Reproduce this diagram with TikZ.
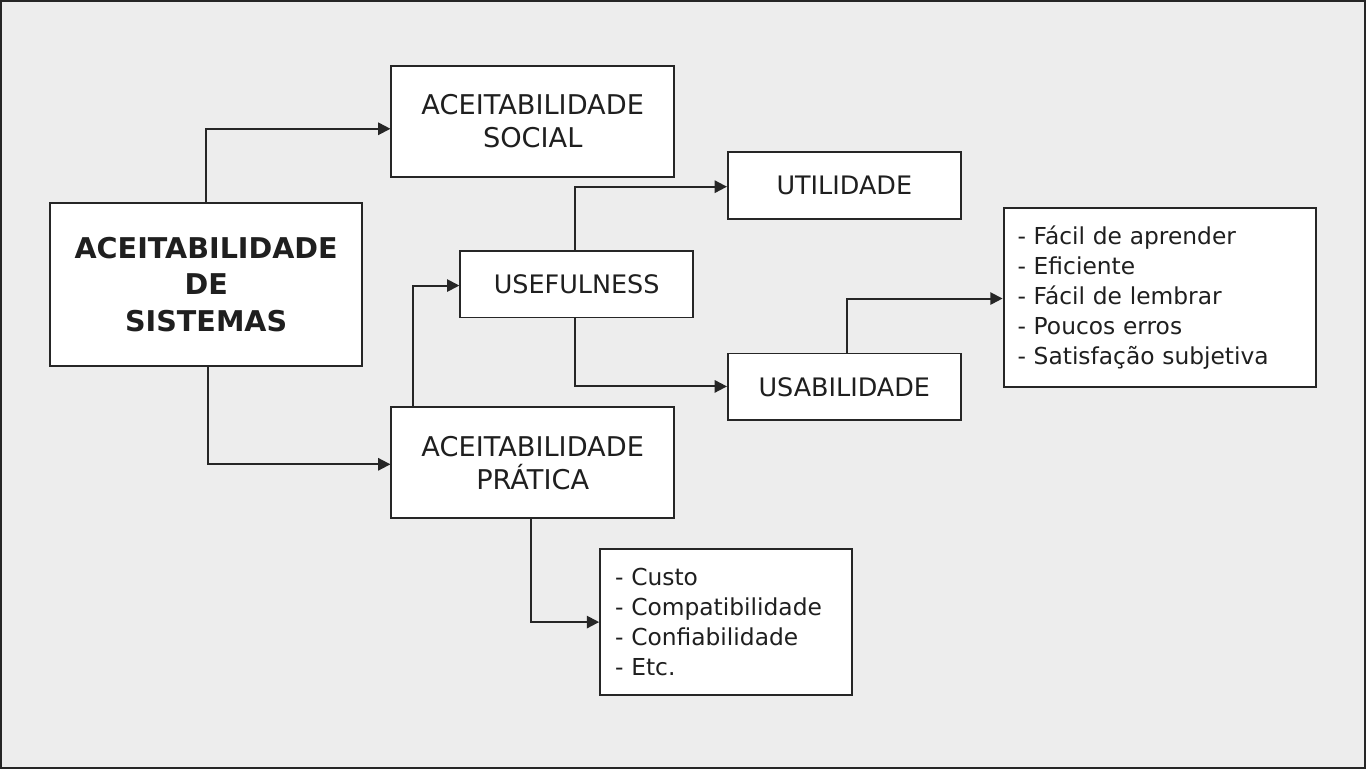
\documentclass[tikz,border=0pt]{standalone}
\usepackage{fontspec}
\setmainfont{DejaVu Sans}
\usetikzlibrary{arrows.meta}

\begin{document}
\begin{tikzpicture}[x=0.02cm,y=-0.02cm,line width=1.1pt,draw=black!85,text=black!88]
      \tikzstyle{box}=[draw,fill=white,inner sep=0pt,align=center,font=\fontsize{15.5}{19}\selectfont]
      \tikzstyle{listbox}=[draw,fill=white,inner sep=0pt,align=left,font=\fontsize{13.3}{17}\selectfont]
      \tikzstyle{link}=[-{Triangle[length=7pt,width=7pt]}]

      % Background and frame
      \draw[fill=black!7] (0,0) rectangle (1366,768);

      % Boxes
      \node[box, minimum width=313*0.02cm, minimum height=164*0.02cm,
            font=\fontsize{16.3}{21}\selectfont\bfseries] (sys) at (205.5,284) {ACEITABILIDADE\\DE\\SISTEMAS};
      \node[box, minimum width=283*0.02cm, minimum height=111*0.02cm] (social) at (532.5,120.5) {ACEITABILIDADE\\SOCIAL};
      \node[box, minimum width=283*0.02cm, minimum height=111*0.02cm] (pratica) at (532.5,462.5) {ACEITABILIDADE\\PRÁTICA};
      \node[box, minimum width=233*0.02cm, minimum height=67*0.02cm,
            font=\fontsize{14.5}{18}\selectfont] (useful) at (576.5,283.5) {USEFULNESS};
      \node[box, minimum width=233*0.02cm, minimum height=67*0.02cm,
            font=\fontsize{14.5}{18}\selectfont] (util) at (844.5,184.5) {UTILIDADE};
      \node[box, minimum width=233*0.02cm, minimum height=67*0.02cm,
            font=\fontsize{14.5}{18}\selectfont] (usab) at (844.5,386.5) {USABILIDADE};
      \node[listbox, minimum width=313*0.02cm, minimum height=180*0.02cm, text width=285*0.02cm] (usablist) at (1160.5,297)
            {- Fácil de aprender\\- Eficiente\\- Fácil de lembrar\\- Poucos erros\\- Satisfação subjetiva};
      \node[listbox, minimum width=252*0.02cm, minimum height=146*0.02cm, text width=222*0.02cm] (pratlist) at (726,622)
            {- Custo\\- Compatibilidade\\- Confiabilidade\\- Etc.};

      % Connectors
      \coordinate (c1) at (205,128);
      \coordinate (c2) at (207,464);
      \coordinate (c3) at (413,285);
      \coordinate (c4) at (575,186);
      \coordinate (c5) at (575,386);
      \coordinate (c6) at (847,298);
      \coordinate (c7) at (531,622);
      \draw[link] (sys.north -| c1) |- (social.west |- c1);
      \draw[link] (sys.south -| c2) |- (pratica.west |- c2);
      \draw[link] (pratica.north -| c3) |- (useful.west |- c3);
      \draw[link] (useful.north -| c4) |- (util.west |- c4);
      \draw[link] (useful.south -| c5) |- (usab.west |- c5);
      \draw[link] (usab.north -| c6) |- (usablist.west |- c6);
      \draw[link] (pratica.south -| c7) |- (pratlist.west |- c7);
\end{tikzpicture}
\end{document}
